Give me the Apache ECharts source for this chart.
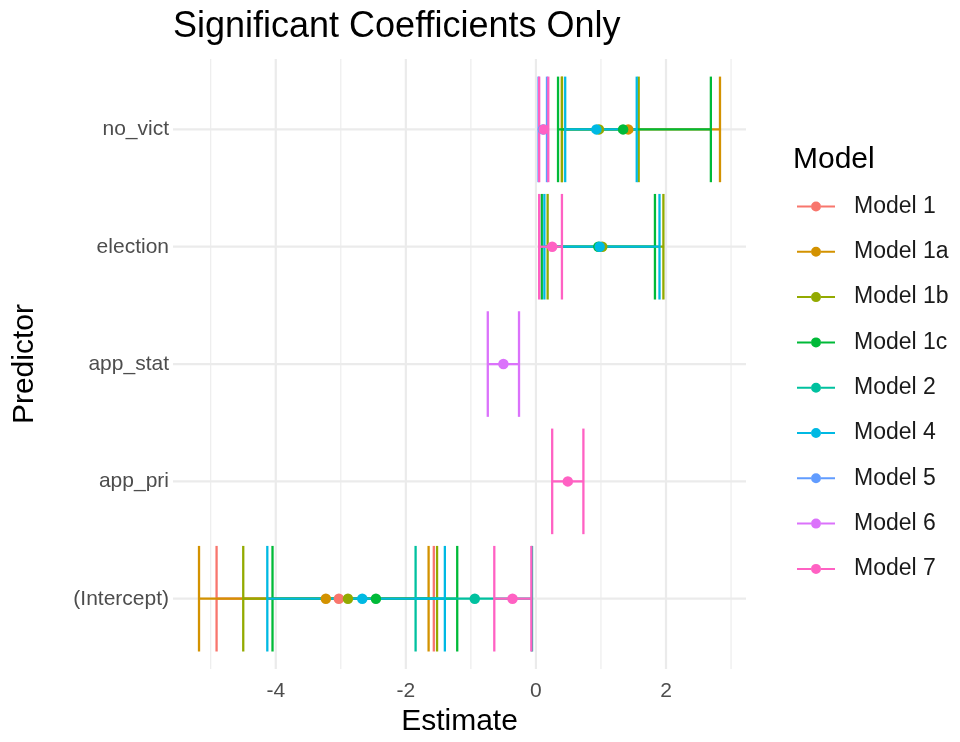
<!DOCTYPE html>
<html>
<head>
<meta charset="utf-8">
<script src="https://cdn.jsdelivr.net/npm/echarts@6/dist/echarts.min.js"></script>
<style>html,body{margin:0;padding:0;background:#fff;}#chart{width:960px;height:742px;}</style>
</head>
<body>
<div id="chart"></div>
<script>
// ---- data ----
const predictors = ['(Intercept)', 'app_pri', 'app_stat', 'election', 'no_vict'];
const models = ['Model 1', 'Model 1a', 'Model 1b', 'Model 1c', 'Model 2', 'Model 4', 'Model 5', 'Model 6', 'Model 7'];
// estimates / lower / upper per predictor (same order as predictors), null = not significant
const est_m1  = [-3.03, null, null, null, null];
const lo_m1   = [-4.91, null, null, null, null];
const hi_m1   = [-1.57, null, null, null, null];
const est_m1a = [-3.23, null, null, null, 1.42];
const lo_m1a  = [-5.18, null, null, null, 0.40];
const hi_m1a  = [-1.65, null, null, null, 2.83];
const est_m1b = [-2.89, null, null, 1.02, 0.97];
const lo_m1b  = [-4.50, null, null, 0.18, 0.40];
const hi_m1b  = [-1.52, null, null, 1.96, 1.58];
const est_m1c = [-2.46, null, null, 0.96, 1.34];
const lo_m1c  = [-4.05, null, null, 0.09, 0.34];
const hi_m1c  = [-1.21, null, null, 1.83, 2.69];
const est_m2  = [-0.94, null, null, null, null];
const lo_m2   = [-1.85, null, null, null, null];
const hi_m2   = [-0.06, null, null, null, null];
const est_m4  = [-2.67, null, null, 0.98, 0.93];
const lo_m4   = [-4.13, null, null, 0.13, 0.45];
const hi_m4   = [-1.40, null, null, 1.90, 1.55];
const est_m5  = [null, null, null, null, 0.11];
const lo_m5   = [null, null, null, null, 0.04];
const hi_m5   = [null, null, null, null, 0.17];
const est_m6  = [null, null, -0.50, null, null];
const lo_m6   = [null, null, -0.74, null, null];
const hi_m6   = [null, null, -0.26, null, null];
const est_m7  = [-0.36, 0.49, null, 0.25, 0.12];
const lo_m7   = [-0.64, 0.25, null, 0.05, 0.05];
const hi_m7   = [-0.07, 0.73, null, 0.40, 0.19];
const xMajorTicks = [-4, -2, 0, 2];
const xMinorTicks = [-5, -3, -1, 1, 3];

const estimates = [est_m1, est_m1a, est_m1b, est_m1c, est_m2, est_m4, est_m5, est_m6, est_m7];
const lowers = [lo_m1, lo_m1a, lo_m1b, lo_m1c, lo_m2, lo_m4, lo_m5, lo_m6, lo_m7];
const uppers = [hi_m1, hi_m1a, hi_m1b, hi_m1c, hi_m2, hi_m4, hi_m5, hi_m6, hi_m7];

const colors = ['#F8766D', '#D39200', '#93AA00', '#00BA38', '#00C19F', '#00B9E3', '#619CFF', '#DB72FB', '#FF61C3'];
const FONT = '"Liberation Sans", Arial, Helvetica, sans-serif';
const GRID = '#EBEBEB';

const chart = echarts.init(document.getElementById('chart'), null, {renderer: 'canvas'});

const series = [];
// background grid lines (drawn via scales)
series.push({
  type: 'custom', name: '_vgrid', silent: true, z: 1,
  data: xMajorTicks.map(v => [v, 2.2]).concat(xMinorTicks.map(v => [v, 1.1])),
  encode: {x: 0},
  renderItem: (params, api) => {
    const cs = params.coordSys;
    const x = api.coord([api.value(0), 3])[0];
    return {type: 'line', shape: {x1: x, y1: cs.y, x2: x, y2: cs.y + cs.height},
      style: {stroke: GRID, lineWidth: api.value(1)}};
  }
});
series.push({
  type: 'custom', name: '_hgrid', silent: true, z: 1,
  data: predictors.map((p, i) => [i + 1]),
  encode: {y: 0},
  renderItem: (params, api) => {
    const cs = params.coordSys;
    const y = api.coord([0, api.value(0)])[1];
    return {type: 'line', shape: {x1: cs.x, y1: y, x2: cs.x + cs.width, y2: y},
      style: {stroke: GRID, lineWidth: 2.2}};
  }
});

// points (first so legend takes their colour), drawn on top via z
models.forEach((m, k) => {
  const pts = [];
  predictors.forEach((p, i) => { if (estimates[k][i] !== null) pts.push([estimates[k][i], i + 1]); });
  series.push({
    type: 'scatter', name: m, z: 4, symbol: 'circle', symbolSize: 10.5,
    itemStyle: {color: colors[k], opacity: 1}, data: pts, silent: true
  });
});
// error bars
models.forEach((m, k) => {
  const bars = [];
  predictors.forEach((p, i) => { if (estimates[k][i] !== null) bars.push([i + 1, lowers[k][i], uppers[k][i]]); });
  series.push({
    type: 'custom', name: m, z: 3, silent: true,
    itemStyle: {color: colors[k]},
    data: bars,
    encode: {y: 0, x: [1, 2]},
    renderItem: (params, api) => {
      const y = api.value(0), lo = api.value(1), hi = api.value(2);
      const pL = api.coord([lo, y]);
      const pH = api.coord([hi, y]);
      const top = api.coord([lo, y + 0.45])[1];
      const bot = api.coord([lo, y - 0.45])[1];
      const st = {stroke: colors[k], lineWidth: 2.3};
      return {type: 'group', children: [
        {type: 'line', shape: {x1: pL[0], y1: pL[1], x2: pH[0], y2: pH[1]}, style: st},
        {type: 'line', shape: {x1: pL[0], y1: top, x2: pL[0], y2: bot}, style: st},
        {type: 'line', shape: {x1: pH[0], y1: top, x2: pH[0], y2: bot}, style: st}
      ]};
    }
  });
});

const option = {
  backgroundColor: '#ffffff',
  animation: false,
  title: [
    {text: 'Significant Coefficients Only', left: 168, top: 4,
     textStyle: {fontFamily: FONT, fontSize: 36, fontWeight: 'normal', color: '#000'}},
    {text: 'Model', left: 788, top: 140,
     textStyle: {fontFamily: FONT, fontSize: 30, fontWeight: 'normal', color: '#000'}}
  ],
  grid: {left: 173, right: 214, top: 59, bottom: 69, containLabel: false},
  xAxis: {
    type: 'value', min: -5.58, max: 3.23,
    name: 'Estimate', nameLocation: 'middle', nameGap: 37,
    nameTextStyle: {fontFamily: FONT, fontSize: 30, color: '#000'},
    axisLine: {show: false}, axisTick: {show: false}, splitLine: {show: false},
    axisLabel: {customValues: xMajorTicks, fontFamily: FONT, fontSize: 21, color: '#4D4D4D', margin: 12,
      formatter: v => String(v)}
  },
  yAxis: {
    type: 'value', min: 0.4, max: 5.6,
    name: 'Predictor', nameLocation: 'middle', nameRotate: 90, nameGap: 133,
    nameTextStyle: {fontFamily: FONT, fontSize: 30, color: '#000'},
    axisLine: {show: false}, axisTick: {show: false}, splitLine: {show: false},
    axisLabel: {customValues: [1, 2, 3, 4, 5], fontFamily: FONT, fontSize: 21, color: '#4D4D4D', margin: 4,
      formatter: v => predictors[Math.round(v) - 1] || ''}
  },
  legend: {
    orient: 'vertical', left: 792, top: 190,
    itemWidth: 38, itemHeight: 12, itemGap: 22.3,
    icon: 'path://M0,5h14v2h-14Z M24,5h14v2h-14Z M14,6a5,5 0 1,0 10,0a5,5 0 1,0 -10,0Z',
    data: models,
    selectedMode: false,
    textStyle: {fontFamily: FONT, fontSize: 23, color: '#1A1A1A', padding: [0, 0, 0, 14]}
  },
  series: series
};
chart.setOption(option);
</script>
</body>
</html>
